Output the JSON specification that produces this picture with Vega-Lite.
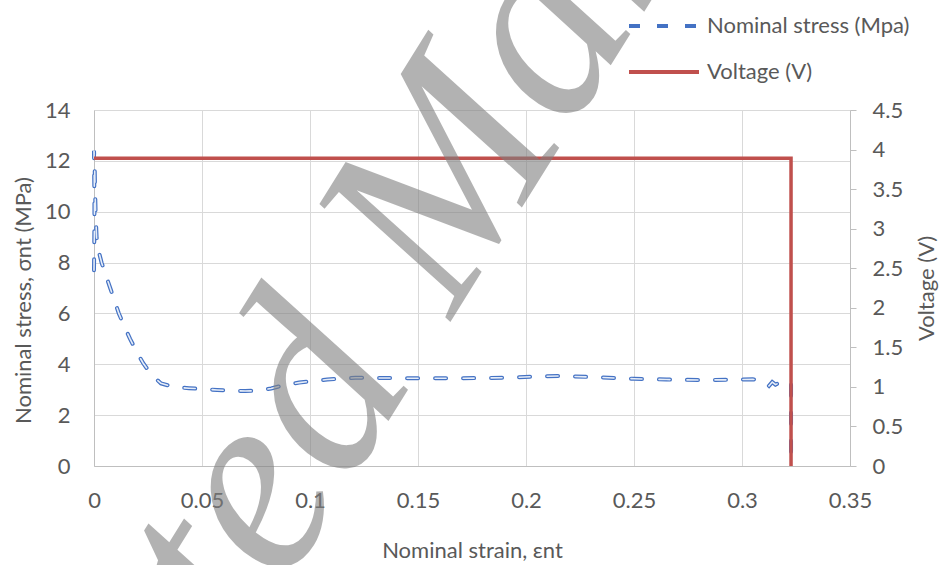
{
  "$schema": "https://vega.github.io/schema/vega-lite/v6.json",
  "width": 756,
  "height": 356,
  "autosize": {"type": "none"},
  "padding": {"left": 94, "top": 110, "right": 91, "bottom": 99},
  "background": "white",
  "config": {
    "view": {"stroke": null},
    "font": "Lato",
    "axis": {
      "labelFont": "Lato", "labelFontSize": 22, "labelColor": "#595959",
      "titleFont": "Lato", "titleFontSize": 22, "titleColor": "#595959", "titleFontWeight": "normal",
      "domainColor": "#bfbfbf", "gridColor": "#d9d9d9", "tickColor": "#bfbfbf", "labelOverlap": false
    }
  },
  "datasets": {
    "stress": [
      {"i": 0, "strain": 0, "stress": 7.7},
      {"i": 1, "strain": 0.0001, "stress": 8.6},
      {"i": 2, "strain": 0.0002, "stress": 9.6},
      {"i": 3, "strain": 0.0002, "stress": 10.5},
      {"i": 4, "strain": 0.0001, "stress": 11.3},
      {"i": 5, "strain": 0, "stress": 12.4},
      {"i": 6, "strain": 0.0003, "stress": 11.8},
      {"i": 7, "strain": 0.0005, "stress": 10.8},
      {"i": 8, "strain": 0.0008, "stress": 9.8},
      {"i": 9, "strain": 0.0012, "stress": 9.0},
      {"i": 10, "strain": 0.002, "stress": 8.5},
      {"i": 11, "strain": 0.0035, "stress": 8.0},
      {"i": 12, "strain": 0.0055, "stress": 7.5},
      {"i": 13, "strain": 0.0075, "stress": 7.0},
      {"i": 14, "strain": 0.0095, "stress": 6.5},
      {"i": 15, "strain": 0.0115, "stress": 6.0},
      {"i": 16, "strain": 0.014, "stress": 5.5},
      {"i": 17, "strain": 0.0167, "stress": 5.0},
      {"i": 18, "strain": 0.0197, "stress": 4.5},
      {"i": 19, "strain": 0.0227, "stress": 4.05},
      {"i": 20, "strain": 0.0265, "stress": 3.6},
      {"i": 21, "strain": 0.031, "stress": 3.25},
      {"i": 22, "strain": 0.037, "stress": 3.1},
      {"i": 23, "strain": 0.044, "stress": 3.06},
      {"i": 24, "strain": 0.05, "stress": 3.03},
      {"i": 25, "strain": 0.057, "stress": 2.99},
      {"i": 26, "strain": 0.064, "stress": 2.96},
      {"i": 27, "strain": 0.07, "stress": 2.95},
      {"i": 28, "strain": 0.076, "stress": 2.96},
      {"i": 29, "strain": 0.082, "stress": 3.05},
      {"i": 30, "strain": 0.088, "stress": 3.18},
      {"i": 31, "strain": 0.095, "stress": 3.28},
      {"i": 32, "strain": 0.108, "stress": 3.4},
      {"i": 33, "strain": 0.121, "stress": 3.47},
      {"i": 34, "strain": 0.134, "stress": 3.46},
      {"i": 35, "strain": 0.15, "stress": 3.45},
      {"i": 36, "strain": 0.17, "stress": 3.45},
      {"i": 37, "strain": 0.19, "stress": 3.47},
      {"i": 38, "strain": 0.205, "stress": 3.52},
      {"i": 39, "strain": 0.215, "stress": 3.54},
      {"i": 40, "strain": 0.23, "stress": 3.5},
      {"i": 41, "strain": 0.25, "stress": 3.43},
      {"i": 42, "strain": 0.265, "stress": 3.4},
      {"i": 43, "strain": 0.28, "stress": 3.38},
      {"i": 44, "strain": 0.295, "stress": 3.39},
      {"i": 45, "strain": 0.305, "stress": 3.41},
      {"i": 46, "strain": 0.31, "stress": 3.35},
      {"i": 47, "strain": 0.3125, "stress": 3.15},
      {"i": 48, "strain": 0.314, "stress": 3.3},
      {"i": 49, "strain": 0.3155, "stress": 3.2},
      {"i": 50, "strain": 0.318, "stress": 3.3},
      {"i": 51, "strain": 0.3227, "stress": 3.3},
      {"i": 52, "strain": 0.3227, "stress": 0}
    ],
    "voltage": [
      {"i": 0, "strain": 0, "voltage": 3.89},
      {"i": 1, "strain": 0.3227, "voltage": 3.89},
      {"i": 2, "strain": 0.3227, "voltage": 0}
    ],
    "watermark": [
      {"strain": 0.1884, "stress": 8.85, "label": "Accepted Manuscript"}
    ]
  },
  "layer": [
    {
      "data": {"name": "stress"},
      "layer": [
        {
          "mark": {"type": "line", "strokeWidth": 4, "strokeCap": "round"},
          "encoding": {
            "x": {
              "field": "strain", "type": "quantitative",
              "scale": {"domain": [0, 0.35], "nice": false},
              "axis": {
                "title": "Nominal strain, εnt",
                "values": [0, 0.05, 0.1, 0.15, 0.2, 0.25, 0.3, 0.35],
                "format": "~g", "ticks": false, "labelPadding": 24, "titlePadding": 29,
                "grid": true, "labelFlush": false
              }
            },
            "y": {
              "field": "stress", "type": "quantitative",
              "scale": {"domain": [0, 14], "nice": false},
              "axis": {
                "title": "Nominal stress, σnt (MPa)", "orient": "left",
                "values": [0, 2, 4, 6, 8, 10, 12, 14],
                "ticks": false, "labelPadding": 24, "titlePadding": 9, "grid": true, "titleY": 190
              }
            },
            "order": {"field": "i", "type": "quantitative"},
            "color": {
              "datum": "Nominal stress (Mpa)",
              "scale": {"domain": ["Nominal stress (Mpa)", "Voltage (V)"], "range": ["#4472c4", "#c0504d"]},
              "legend": {
                "title": null, "orient": "none", "legendX": 533, "legendY": -97,
                "symbolType": "stroke", "symbolSize": 4900, "symbolStrokeWidth": 4,
                "labelFont": "Lato", "labelFontSize": 22, "labelColor": "#595959",
                "labelOffset": 6, "clipHeight": 26, "rowPadding": 20, "padding": 0, "labelLimit": 400
              }
            },
            "strokeDash": {
              "datum": "Nominal stress (Mpa)",
              "scale": {"domain": ["Nominal stress (Mpa)", "Voltage (V)"], "range": [[11, 17], [1, 0]]},
              "legend": {
                "title": null, "orient": "none", "legendX": 533, "legendY": -97,
                "symbolType": "stroke", "symbolSize": 4900, "symbolStrokeWidth": 4,
                "labelFont": "Lato", "labelFontSize": 22, "labelColor": "#595959",
                "labelOffset": 6, "clipHeight": 26, "rowPadding": 20, "padding": 0, "labelLimit": 400
              }
            }
          }
        },
        {
          "mark": {"type": "line", "strokeWidth": 1.6, "strokeCap": "round", "strokeDash": [11, 17], "color": "#e6edf8"},
          "encoding": {
            "x": {"field": "strain", "type": "quantitative"},
            "y": {"field": "stress", "type": "quantitative"},
            "order": {"field": "i", "type": "quantitative"}
          }
        }
      ]
    },
    {
      "data": {"name": "voltage"},
      "mark": {"type": "line", "strokeWidth": 3.5},
      "encoding": {
        "x": {"field": "strain", "type": "quantitative"},
        "y": {
          "field": "voltage", "type": "quantitative",
          "scale": {"domain": [0, 4.5], "nice": false},
          "axis": {
            "title": "Voltage (V)", "orient": "right",
            "values": [0, 0.5, 1, 1.5, 2, 2.5, 3, 3.5, 4, 4.5],
            "format": "~g", "ticks": true, "tickSize": 6, "labelPadding": 16,
            "titlePadding": 14, "titleAngle": -90, "titleBaseline": "top", "grid": false
          }
        },
        "order": {"field": "i", "type": "quantitative"},
        "color": {"datum": "Voltage (V)"},
        "strokeDash": {"datum": "Voltage (V)"}
      }
    },
    {
      "data": {"name": "watermark"},
      "mark": {
        "type": "text", "font": "Liberation Serif", "fontStyle": "italic", "fontSize": 265,
        "angle": -58, "align": "center", "baseline": "alphabetic", "color": "#808080", "opacity": 0.6
      },
      "encoding": {
        "x": {"field": "strain", "type": "quantitative"},
        "y": {"field": "stress", "type": "quantitative", "scale": {"domain": [0, 14], "nice": false}, "axis": null},
        "text": {"field": "label"}
      }
    }
  ],
  "resolve": {"scale": {"y": "independent"}}
}
